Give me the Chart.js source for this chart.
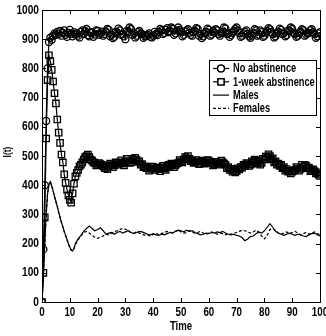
<!DOCTYPE html>
<html>
<head>
<meta charset="utf-8">
<script src="https://cdn.jsdelivr.net/npm/chart.js@4.4.1/dist/chart.umd.min.js"></script>
<style>
  html, body { margin: 0; padding: 0; background: #fff; }
  #wrap { width: 326px; height: 336px; }
</style>
</head>
<body>
<div id="wrap"><canvas id="chart" width="326" height="336"></canvas></div>
<script>
// Sampling times of the two marked runs (every half time unit)
const markTime = [
  0, 0.5, 1, 1.5, 2, 2.5, 3, 3.5, 4, 4.5, 5, 5.5, 6, 6.5, 7, 7.5, 8, 8.5, 9, 9.5,
  10, 10.5, 11, 11.5, 12, 12.5, 13, 13.5, 14, 14.5, 15, 15.5, 16, 16.5, 17, 17.5, 18, 18.5, 19, 19.5,
  20, 20.5, 21, 21.5, 22, 22.5, 23, 23.5, 24, 24.5, 25, 25.5, 26, 26.5, 27, 27.5, 28, 28.5, 29, 29.5,
  30, 30.5, 31, 31.5, 32, 32.5, 33, 33.5, 34, 34.5, 35, 35.5, 36, 36.5, 37, 37.5, 38, 38.5, 39, 39.5,
  40, 40.5, 41, 41.5, 42, 42.5, 43, 43.5, 44, 44.5, 45, 45.5, 46, 46.5, 47, 47.5, 48, 48.5, 49, 49.5,
  50, 50.5, 51, 51.5, 52, 52.5, 53, 53.5, 54, 54.5, 55, 55.5, 56, 56.5, 57, 57.5, 58, 58.5, 59, 59.5,
  60, 60.5, 61, 61.5, 62, 62.5, 63, 63.5, 64, 64.5, 65, 65.5, 66, 66.5, 67, 67.5, 68, 68.5, 69, 69.5,
  70, 70.5, 71, 71.5, 72, 72.5, 73, 73.5, 74, 74.5, 75, 75.5, 76, 76.5, 77, 77.5, 78, 78.5, 79, 79.5,
  80, 80.5, 81, 81.5, 82, 82.5, 83, 83.5, 84, 84.5, 85, 85.5, 86, 86.5, 87, 87.5, 88, 88.5, 89, 89.5,
  90, 90.5, 91, 91.5, 92, 92.5, 93, 93.5, 94, 94.5, 95, 95.5, 96, 96.5, 97, 97.5, 98, 98.5, 99, 99.5,
  100
];

// Sampling times of the male / female curves
const lineTime = [
  0, 0.5, 1, 1.5, 2, 2.5, 3, 3.5, 4, 4.5, 5, 5.5, 6, 6.5, 7, 7.5, 8, 8.5, 9, 9.5, 10, 10.5, 11, 11.5, 12,
  13, 14, 15, 16, 17, 18, 19, 20, 21, 22, 23, 24, 25, 26, 27, 28, 29, 30,
  31, 32, 33, 34, 35, 36, 37, 38, 39, 40, 41, 42, 43, 44, 45, 46, 47, 48, 49, 50,
  51, 52, 53, 54, 55, 56, 57, 58, 59, 60, 61, 62, 63, 64, 65, 66, 67, 68, 69, 70,
  71, 72, 73, 74, 75, 76, 77, 78, 79, 80, 81, 82, 83, 84, 85, 86, 87, 88, 89, 90,
  91, 92, 93, 94, 95, 96, 97, 98, 99, 100
];

const noAbstinence = [
  0, 180, 400, 620, 800, 890, 905, 898, 912, 920, 915, 925, 918, 928, 912, 922, 930, 915, 908, 922,
  932, 918, 910, 924, 916, 920, 912, 906, 925, 930, 918, 928, 935, 914, 910, 924, 922, 908, 916, 930,
  928, 915, 920, 926, 912, 918, 926, 935, 932, 910, 915, 904, 908, 925, 922, 936, 930, 915, 918, 910,
  900, 928, 924, 940, 935, 915, 920, 906, 912, 924, 928, 920, 918, 905, 910, 912, 915, 920, 908, 906,
  912, 925, 918, 914, 925, 935, 930, 918, 922, 932, 938, 924, 928, 940, 935, 915, 920, 930, 940, 932,
  926, 910, 915, 926, 930, 934, 922, 915, 912, 924, 928, 938, 935, 912, 918, 904, 910, 920, 925, 936,
  932, 912, 916, 928, 922, 934, 930, 918, 912, 920, 924, 940, 936, 918, 920, 908, 914, 922, 928, 935,
  940, 930, 922, 908, 912, 920, 926, 930, 918, 910, 905, 912, 920, 934, 930, 912, 916, 930, 924, 908,
  912, 922, 928, 938, 934, 925, 918, 906, 910, 920, 926, 936, 932, 918, 920, 910, 914, 930, 928, 940,
  935, 922, 918, 908, 912, 922, 926, 934, 930, 912, 916, 920, 922, 930, 934, 924, 918, 905, 910, 920,
  924
];

const weekAbstinence = [
  0, 100, 290, 560, 760, 845, 825, 795, 755, 715, 680, 625, 580, 545, 505, 478, 437, 408, 385, 365,
  350, 340, 372, 405, 430, 442, 452, 465, 470, 478, 488, 496, 500, 505, 496, 488, 484, 478, 476, 468,
  470, 476, 472, 470, 465, 458, 460, 455, 466, 474, 472, 462, 468, 478, 475, 470, 478, 485, 474, 468,
  480, 490, 483, 476, 478, 490, 486, 494, 488, 480, 482, 470, 472, 462, 465, 458, 460, 450, 456, 464,
  462, 452, 458, 460, 455, 448, 460, 466, 457, 452, 462, 470, 466, 474, 470, 462, 468, 474, 476, 486,
  482, 478, 488, 496, 492, 500, 490, 482, 484, 476, 478, 486, 482, 472, 476, 484, 480, 474, 478, 486,
  484, 476, 478, 468, 472, 480, 476, 470, 474, 484, 478, 474, 470, 458, 462, 452, 456, 446, 452, 444,
  448, 458, 454, 462, 460, 470, 466, 476, 472, 466, 470, 482, 478, 488, 484, 474, 480, 470, 476, 490,
  488, 498, 496, 506, 500, 488, 492, 478, 482, 470, 474, 466, 470, 458, 462, 450, 455, 446, 448, 440,
  446, 450, 452, 462, 458, 450, 456, 470, 462, 470, 466, 458, 460, 448, 452, 454, 448, 440, 444, 436,
  432
];

const males = [
  0, 90, 200, 300, 370, 405, 412, 398, 380, 362, 345, 328, 308, 290, 272, 258, 242, 228, 215, 200, 188, 178, 175, 182, 200,
  216, 228, 242, 252, 260, 252, 244, 248, 254, 244, 232, 236, 238, 232, 238, 242, 236, 240,
  244, 238, 234, 238, 242, 240, 236, 232, 230, 234, 230, 228, 232, 230, 234, 238, 236, 242, 246, 244,
  240, 246, 242, 244, 238, 234, 230, 232, 236, 234, 238, 236, 240, 238, 242, 236, 232, 230, 232, 228,
  226, 220, 210, 216, 224, 226, 234, 240, 236, 244, 256, 268, 256, 242, 236, 232, 228, 232, 236, 232,
  228, 232, 230, 226, 224, 230, 234, 236, 230, 226
];

const females = [
  0, 88, 198, 302, 372, 402, 410, 398, 382, 360, 343, 326, 306, 290, 274, 256, 240, 226, 213, 198, 186, 177, 176, 184, 196,
  214, 226, 238, 242, 236, 228, 222, 218, 222, 226, 232, 230, 236, 240, 244, 248, 252, 250,
  244, 238, 236, 240, 236, 232, 228, 230, 226, 232, 236, 230, 234, 238, 242, 240, 236, 242, 246, 240,
  236, 238, 244, 240, 236, 238, 242, 236, 232, 236, 240, 236, 232, 236, 234, 230, 234, 232, 236, 238,
  242, 246, 244, 240, 236, 240, 246, 238, 226, 216, 228, 248, 252, 244, 236, 232, 236, 240, 234, 238,
  242, 236, 230, 234, 238, 232, 236, 240, 234, 230
];

const xTicks = [0, 10, 20, 30, 40, 50, 60, 70, 80, 90, 100];
const yTicks = [0, 100, 200, 300, 400, 500, 600, 700, 800, 900, 1000];

const FONT = "'Liberation Sans', Arial, sans-serif";

function points(times, values) {
  return values.map((v, i) => ({ x: times[i], y: v }));
}

// narrow lettering: squeeze the glyphs horizontally
function narrowText(ctx, str, x, y, align, size, squeeze) {
  ctx.save();
  ctx.translate(x, y);
  ctx.scale(squeeze, 1);
  ctx.font = 'bold ' + size + 'px ' + FONT;
  ctx.textAlign = align;
  ctx.textBaseline = 'middle';
  ctx.fillStyle = '#000';
  ctx.fillText(str, 0, 0);
  ctx.restore();
}

// Box frame, inward ticks, tick labels, axis titles and the boxed legend
const framePlugin = {
  id: 'frame',
  afterDraw(chart) {
    const ctx = chart.ctx;
    const a = chart.chartArea;
    const xs = chart.scales.x;
    const ys = chart.scales.y;
    const len = 4;

    ctx.save();
    ctx.strokeStyle = '#000';
    ctx.lineWidth = 1;
    ctx.setLineDash([]);
    ctx.strokeRect(Math.round(a.left) + 0.5, Math.round(a.top) + 0.5,
      Math.round(a.right - a.left), Math.round(a.bottom - a.top));

    ctx.beginPath();
    xTicks.forEach(v => {
      const px = Math.round(xs.getPixelForValue(v)) + 0.5;
      ctx.moveTo(px, a.bottom); ctx.lineTo(px, a.bottom - len);
      ctx.moveTo(px, a.top); ctx.lineTo(px, a.top + len);
    });
    yTicks.forEach(v => {
      const py = Math.round(ys.getPixelForValue(v)) + 0.5;
      ctx.moveTo(a.left, py); ctx.lineTo(a.left + len, py);
      ctx.moveTo(a.right, py); ctx.lineTo(a.right - len, py);
    });
    ctx.stroke();

    // tick labels
    xTicks.forEach(v => {
      narrowText(ctx, String(v), xs.getPixelForValue(v), a.bottom + 10, 'center', 13, 0.75);
    });
    yTicks.forEach(v => {
      narrowText(ctx, String(v), a.left - 3, ys.getPixelForValue(v), 'right', 13, 0.78);
    });

    // axis titles
    narrowText(ctx, 'Time', (a.left + a.right) / 2, a.bottom + 24.5, 'center', 12, 0.8);
    ctx.save();
    ctx.translate(8, 152);
    ctx.rotate(-Math.PI / 2);
    narrowText(ctx, 'I(t)', 0, 0, 'center', 10, 0.85);
    ctx.restore();

    // legend
    const bx = 209, by = 60, bw = 107, bh = 55;
    ctx.fillStyle = '#fff';
    ctx.fillRect(bx, by, bw, bh);
    ctx.strokeRect(bx + 0.5, by + 0.5, bw, bh);

    chart.data.datasets.forEach((ds, i) => {
      const ry = by + 8.5 + i * 13.3;
      ctx.beginPath();
      ctx.lineWidth = 1.2;
      ctx.setLineDash(ds.borderDash || []);
      ctx.moveTo(213, ry); ctx.lineTo(229, ry);
      ctx.stroke();
      ctx.setLineDash([]);
      if (ds.pointRadius > 0) {
        Chart.helpers.drawPoint(ctx, {
          pointStyle: ds.pointStyle,
          radius: ds.pointRadius,
          borderWidth: 1.2
        }, 221, ry);
        ctx.stroke();
      }
      narrowText(ctx, ds.label, 233, ry + 0.5, 'left', 12.5, 0.74);
    });
    ctx.restore();
  }
};

new Chart(document.getElementById('chart'), {
  type: 'line',
  data: {
    datasets: [
      {
        label: 'No abstinence',
        data: points(markTime, noAbstinence),
        borderColor: '#000',
        borderWidth: 1.2,
        pointStyle: 'circle',
        pointRadius: 3.5,
        pointBorderColor: '#000',
        pointBackgroundColor: 'rgba(0,0,0,0)',
        pointBorderWidth: 1.3
      },
      {
        label: '1-week abstinence',
        data: points(markTime, weekAbstinence),
        borderColor: '#000',
        borderWidth: 1.2,
        pointStyle: 'rect',
        pointRadius: 4.5,
        pointBorderColor: '#000',
        pointBackgroundColor: 'rgba(0,0,0,0)',
        pointBorderWidth: 1.3
      },
      {
        label: 'Males',
        data: points(lineTime, males),
        borderColor: '#000',
        borderWidth: 1.2,
        pointRadius: 0
      },
      {
        label: 'Females',
        data: points(lineTime, females),
        borderColor: '#000',
        borderWidth: 1.2,
        borderDash: [3, 2],
        pointRadius: 0
      }
    ]
  },
  plugins: [framePlugin],
  options: {
    responsive: false,
    animation: false,
    events: [],
    layout: {
      autoPadding: false,
      padding: { top: 10, right: 6, bottom: 0, left: 0 }
    },
    plugins: {
      legend: { display: false },
      tooltip: { enabled: false }
    },
    scales: {
      x: {
        type: 'linear',
        min: 0,
        max: 100,
        afterFit(scale) { scale.height = 34; },
        grid: { display: false, drawTicks: false },
        border: { display: false },
        ticks: { display: false }
      },
      y: {
        type: 'linear',
        min: 0,
        max: 1000,
        afterFit(scale) { scale.width = 42; },
        grid: { display: false, drawTicks: false },
        border: { display: false },
        ticks: { display: false }
      }
    }
  }
});
</script>
</body>
</html>
